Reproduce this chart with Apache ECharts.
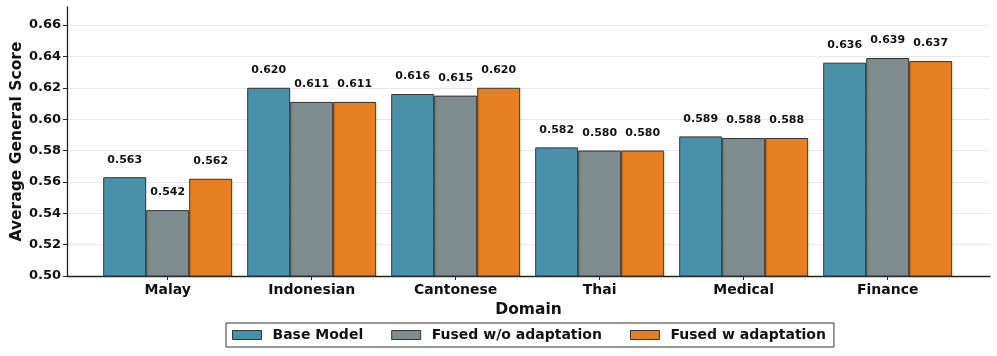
<!DOCTYPE html>
<html>
<head>
<meta charset="utf-8">
<script src="https://cdn.jsdelivr.net/npm/echarts@6/dist/echarts.min.js"></script>
<style>
  html, body { margin: 0; padding: 0; background: #fff; }
  #main { width: 997px; height: 356px; }
</style>
</head>
<body>
<div id="main"></div>
<script>
// data
var domains = ['Malay', 'Indonesian', 'Cantonese', 'Thai', 'Medical', 'Finance'];
var baseModel = [0.563, 0.620, 0.616, 0.582, 0.589, 0.636];
var fusedNoAdapt = [0.542, 0.611, 0.615, 0.580, 0.588, 0.639];
var fusedAdapt = [0.562, 0.611, 0.620, 0.580, 0.588, 0.637];
var seriesNames = ['Base Model', 'Fused w/o adaptation', 'Fused w adaptation'];
var colors = ['#4a90a8', '#7f8c8d', '#e67e22'];

var myChart = echarts.init(document.getElementById('main'));
var font = 'DejaVu Sans';

function barSeries(name, values, color) {
    return {
        name: name,
        type: 'bar',
        xAxisIndex: 1,
        yAxisIndex: 1,
        data: values,
        barWidth: 43,
        barGap: '0%',
        itemStyle: { color: color, borderColor: '#333', borderWidth: 1 },
        label: {
            show: true,
            position: 'top',
            distance: 12,
            fontFamily: font,
            fontWeight: 'bold',
            fontSize: 11,
            color: '#111',
            formatter: function (p) { return p.value.toFixed(3); }
        }
    };
}

var option = {
    animation: false,
    grid: [
        // ticks, labels and gridlines (0.50 - 0.66)
        { left: 67, right: 7, top: 25, bottom: 80 },
        // bars, full plot height
        { left: 95.7, right: 37.3, top: 7, bottom: 80 }
    ],
    legend: {
        data: seriesNames,
        icon: 'rect',
        left: 226,
        top: 323,
        itemWidth: 29,
        itemHeight: 9,
        itemGap: 28,
        padding: [5, 8, 5, 6],
        borderColor: '#333',
        borderWidth: 1,
        backgroundColor: '#fff',
        textStyle: {
            fontFamily: font,
            fontWeight: 'bold',
            fontSize: 14,
            color: '#111',
            padding: [0, 0, 0, 6]
        },
        itemStyle: { borderColor: '#333', borderWidth: 1 }
    },
    xAxis: [
        {
            type: 'value',
            gridIndex: 0,
            min: 0, max: 1,
            name: 'Domain',
            nameLocation: 'middle',
            nameGap: 26,
            nameTextStyle: { fontFamily: font, fontWeight: 'bold', fontSize: 15.5, color: '#111' },
            axisLine: { show: true, lineStyle: { color: '#222', width: 1.3 } },
            axisTick: { show: false },
            axisLabel: { show: false },
            splitLine: { show: false }
        },
        {
            type: 'category',
            gridIndex: 1,
            data: domains,
            axisLine: { show: false },
            axisTick: { show: true, alignWithLabel: true, length: 4, lineStyle: { color: '#222' } },
            axisLabel: { fontFamily: font, fontWeight: 'bold', fontSize: 14, color: '#111', margin: 7 }
        }
    ],
    yAxis: [
        {
            type: 'value',
            gridIndex: 0,
            min: 0.5,
            max: 0.66,
            interval: 0.02,
            axisLine: { show: false },
            axisTick: { show: true, length: 4, lineStyle: { color: '#222' } },
            axisLabel: {
                fontFamily: font, fontWeight: 'bold', fontSize: 13, color: '#111', margin: 6,
                formatter: function (v) { return v.toFixed(2); }
            },
            splitLine: { show: true, lineStyle: { color: '#e8e8e8', width: 1 } }
        },
        {
            type: 'value',
            gridIndex: 1,
            min: 0.5,
            max: 0.6715,
            offset: 28.7,
            name: 'Average General Score',
            nameLocation: 'middle',
            nameGap: 42,
            nameTextStyle: { fontFamily: font, fontWeight: 'bold', fontSize: 15.5, color: '#111' },
            axisLine: { show: true, lineStyle: { color: '#222', width: 1.3 } },
            axisTick: { show: false },
            axisLabel: { show: false },
            splitLine: { show: false }
        }
    ],
    series: [
        barSeries(seriesNames[0], baseModel, colors[0]),
        barSeries(seriesNames[1], fusedNoAdapt, colors[1]),
        barSeries(seriesNames[2], fusedAdapt, colors[2])
    ]
};

myChart.setOption(option);
</script>
</body>
</html>
